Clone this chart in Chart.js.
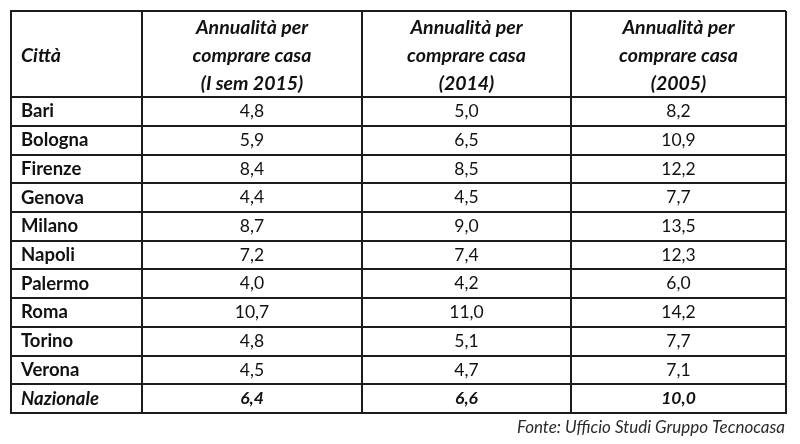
<!DOCTYPE html>
<html><head><meta charset="utf-8">
<script src="https://cdn.jsdelivr.net/npm/chart.js@4"></script>
<style>html,body{margin:0;padding:0;background:#fff}</style>
</head><body>
<canvas id="c" width="800" height="444"></canvas>
<script>
const headers = ['Città', 'Annualità per\ncomprare casa\n(I sem 2015)', 'Annualità per\ncomprare casa\n(2014)', 'Annualità per\ncomprare casa\n(2005)'];
const cities = ['Bari','Bologna','Firenze','Genova','Milano','Napoli','Palermo','Roma','Torino','Verona','Nazionale'];
const sem2015 = [4.8,5.9,8.4,4.4,8.7,7.2,4.0,10.7,4.8,4.5,6.4];
const y2014 = [5.0,6.5,8.5,4.5,9.0,7.4,4.2,11.0,5.1,4.7,6.6];
const y2005 = [8.2,10.9,12.2,7.7,13.5,12.3,6.0,14.2,7.7,7.1,10.0];
const source = 'Fonte: Ufficio Studi Gruppo Tecnocasa';

// layout (in table units)
const colEdges = [0,131,351,560,775];
const headerUnits = 3;
const FONT = 'Lato, "Open Sans", sans-serif';
const LINE = '#1c1c1c';

const series = [sem2015, y2014, y2005];
const points = [];
series.forEach((arr, c) => {
  arr.forEach((v, r) => {
    points.push({x: (colEdges[c+1] + colEdges[c+2]) / 2, y: headerUnits + r + 0.5, v: v, last: r === cities.length - 1});
  });
});
cities.forEach((name, r) => {
  points.push({x: colEdges[0], y: headerUnits + r + 0.5, label: name, last: r === cities.length - 1});
});
headers.forEach((h, c) => {
  points.push({x: c === 0 ? colEdges[0] : (colEdges[c] + colEdges[c+1]) / 2, y: headerUnits / 2, header: h, first: c === 0});
});

const fmt = v => v.toFixed(1).replace('.', ',');

const textPlugin = {
  id: 'cellText',
  afterDatasetsDraw(chart) {
    const ctx = chart.ctx;
    const meta = chart.getDatasetMeta(0);
    ctx.save();
    ctx.fillStyle = '#111';
    ctx.textBaseline = 'middle';
    meta.data.forEach((el, i) => {
      const p = points[i];
      if (p.header !== undefined) {
        ctx.font = 'italic bold 19.5px ' + FONT;
        if (p.first) {
          ctx.textAlign = 'left';
          ctx.fillText(p.header, el.x + 10, el.y + 2);
        } else {
          ctx.textAlign = 'center';
          const lines = p.header.split('\n');
          lines.forEach((ln, k) => ctx.fillText(ln, el.x, el.y + 2 + (k - (lines.length - 1) / 2) * 28));
        }
      } else if (p.label !== undefined) {
        ctx.font = (p.last ? 'italic bold ' : 'bold ') + '18.5px ' + FONT;
        ctx.textAlign = 'left';
        ctx.fillText(p.label, el.x + 10, el.y);
      } else {
        ctx.font = (p.last ? 'italic bold ' : '') + '17.5px ' + FONT;
        ctx.textAlign = 'center';
        ctx.fillText(fmt(p.v), el.x, el.y);
      }
    });
    const a = chart.chartArea;
    ctx.font = 'italic 17px ' + FONT;
    ctx.fillStyle = '#2a2a2a';
    ctx.textAlign = 'right';
    ctx.fillText(source, a.right - 1, a.bottom + 15);
    ctx.restore();
  }
};

const yTicks = [0];
for (let i = headerUnits; i <= headerUnits + cities.length; i++) yTicks.push(i);

new Chart(document.getElementById('c'), {
  type: 'scatter',
  data: { datasets: [{ data: points, pointRadius: 0, pointHoverRadius: 0 }] },
  options: {
    responsive: false,
    animation: false,
    devicePixelRatio: 1,
    layout: { padding: { left: 11, right: 14, top: 11, bottom: 31 } },
    plugins: { legend: { display: false }, tooltip: { enabled: false } },
    events: [],
    scales: {
      x: {
        type: 'linear', min: colEdges[0], max: colEdges[colEdges.length - 1],
        afterBuildTicks: ax => { ax.ticks = colEdges.map(v => ({ value: v })); },
        ticks: { display: false },
        grid: { color: LINE, lineWidth: 2, drawTicks: false },
        border: { display: true, color: LINE, width: 2 }
      },
      y: {
        type: 'linear', reverse: true, min: 0, max: headerUnits + cities.length,
        afterBuildTicks: ax => { ax.ticks = yTicks.map(v => ({ value: v })); },
        ticks: { display: false },
        grid: { color: LINE, lineWidth: 2, drawTicks: false },
        border: { display: true, color: LINE, width: 2 }
      }
    }
  },
  plugins: [textPlugin]
});
</script>
</body></html>
